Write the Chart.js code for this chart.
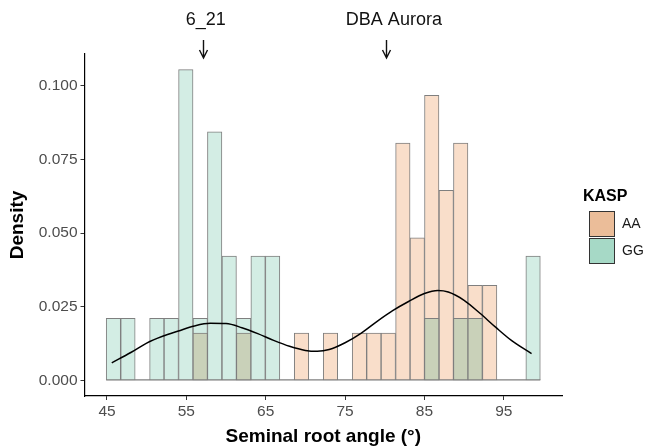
<!DOCTYPE html>
<html>
<head>
<meta charset="utf-8">
<script src="https://cdn.jsdelivr.net/npm/chart.js@4.4.0/dist/chart.umd.min.js"></script>
<style>
  html, body { margin: 0; padding: 0; background: #fff; }
  #wrap { width: 647px; height: 446px; }
</style>
</head>
<body>
<div id="wrap"><canvas id="hist"></canvas></div>
<script>
// Histogram bin centres (seminal root angle, degrees), 30 bins
var binCenters = [45.81, 47.64, 49.46, 51.28, 53.10, 54.93, 56.75, 58.57, 60.40, 62.22,
                  64.04, 65.87, 67.69, 69.51, 71.34, 73.16, 74.98, 76.81, 78.63, 80.45,
                  82.28, 84.10, 85.92, 87.75, 89.57, 91.39, 93.22, 95.04, 96.86, 98.69];

// Density per bin, KASP AA
var densityAA = [0, 0, 0, 0, 0, 0, 0.0161, 0, 0, 0.0161,
                 0, 0, 0, 0.0161, 0, 0.0161, 0, 0.0161, 0.0161, 0.0161,
                 0.0806, 0.0484, 0.0968, 0.0645, 0.0806, 0.0323, 0.0323, 0, 0, 0];

// Density per bin, KASP GG
var densityGG = [0.0211, 0.0211, 0, 0.0211, 0.0211, 0.1055, 0.0211, 0.0844, 0.0422, 0.0211,
                 0.0422, 0.0422, 0, 0, 0, 0, 0, 0, 0, 0,
                 0, 0, 0.0211, 0, 0.0211, 0.0211, 0, 0, 0, 0.0422];

// Overall density curve
var curveX = [45.6, 48, 50, 52, 54, 56, 58, 60, 62, 64, 66, 68, 70, 71.5,
              73, 75, 77, 79, 81, 83, 85, 86.7, 88, 90, 92, 94, 96, 98.5];
var curveY = [0.0060, 0.0095, 0.0127, 0.0150, 0.0168, 0.0185, 0.0194, 0.0193, 0.0179, 0.0159,
              0.0136, 0.0116, 0.0102, 0.0099, 0.0105, 0.0128, 0.0160, 0.0200, 0.0237, 0.0268,
              0.0295, 0.0305, 0.0300, 0.0272, 0.0228, 0.0180, 0.0135, 0.0091];

// Axis ticks
var xTicks = [45, 55, 65, 75, 85, 95];
var yTicks = [0, 0.025, 0.05, 0.075, 0.1];

// Marked lines above the plot
var markLabels = ["6_21", "DBA Aurora"];
var markArrowX = [57.1, 80.15];
var markTextX = [57.45, 81.15];

var legendLabels = ["AA", "GG"];
var legendColors = ["#EBBD99", "#A6D9C6"];

var FONT = "'Liberation Sans', Arial, Helvetica, sans-serif";

function toPoints(xs, ys) {
  var out = [];
  for (var i = 0; i < xs.length; i++) {
    out.push({ x: xs[i], y: ys[i] });
  }
  return out;
}

// where both genotypes share a bin, the mixed colour shows up to the lower bar
var overlap = [];
for (var i = 0; i < binCenters.length; i++) {
  overlap.push(Math.min(densityAA[i], densityGG[i]));
}

var barStyle = {
  type: "bar",
  grouped: false,
  barPercentage: 1,
  categoryPercentage: 1,
  borderColor: "#7F7F7F",
  borderWidth: 1,
  borderSkipped: false
};

// Arrows, labels, baseline of empty bins and the legend
var extras = {
  id: "extras",
  beforeDatasetsDraw: function (chart) {
    var ctx = chart.ctx;
    var x = chart.scales.x, y = chart.scales.y;
    var half = (binCenters[1] - binCenters[0]) / 2;
    ctx.save();
    ctx.strokeStyle = "#7F7F7F";
    ctx.lineWidth = 1.2;
    ctx.beginPath();
    ctx.moveTo(x.getPixelForValue(binCenters[0] - half), y.getPixelForValue(0) - 0.5);
    ctx.lineTo(x.getPixelForValue(binCenters[binCenters.length - 1] + half), y.getPixelForValue(0) - 0.5);
    ctx.stroke();
    ctx.restore();
  },
  afterDraw: function (chart) {
    var ctx = chart.ctx;
    var x = chart.scales.x;
    ctx.save();
    // labels with arrows
    ctx.fillStyle = "#111";
    ctx.strokeStyle = "#111";
    ctx.lineWidth = 1.4;
    ctx.font = "18px " + FONT;
    ctx.textAlign = "center";
    ctx.textBaseline = "middle";
    for (var i = 0; i < markLabels.length; i++) {
      ctx.fillText(markLabels[i], x.getPixelForValue(markTextX[i]), 20);
      var ax = Math.round(x.getPixelForValue(markArrowX[i])) + 0.5;
      ctx.beginPath();
      ctx.moveTo(ax, 40);
      ctx.lineTo(ax, 58);
      ctx.moveTo(ax - 4, 50);
      ctx.lineTo(ax, 58);
      ctx.lineTo(ax + 4, 50);
      ctx.stroke();
    }
    // legend
    ctx.textAlign = "left";
    ctx.fillStyle = "#000";
    ctx.font = "bold 16px " + FONT;
    ctx.fillText("KASP", 583, 197);
    ctx.font = "14px " + FONT;
    for (var j = 0; j < legendLabels.length; j++) {
      var top = 211 + j * 27;
      ctx.fillStyle = legendColors[j];
      ctx.fillRect(589.5, top + 0.5, 25, 25);
      ctx.strokeStyle = "#333";
      ctx.lineWidth = 1;
      ctx.strokeRect(589.5, top + 0.5, 25, 25);
      ctx.fillStyle = "#1a1a1a";
      ctx.fillText(legendLabels[j], 622, top + 13);
    }
    ctx.restore();
  }
};

var ctx = document.getElementById("hist").getContext("2d");
var chart = new Chart(ctx, {
  type: "bar",
  data: {
    datasets: [
      {
        label: "curve",
        type: "line",
        data: toPoints(curveX, curveY),
        borderColor: "#000",
        borderWidth: 1.5,
        pointRadius: 0,
        fill: false,
        cubicInterpolationMode: "monotone",
        order: 0
      },
      Object.assign({}, barStyle, {
        label: "overlap",
        data: toPoints(binCenters, overlap),
        backgroundColor: "#C9D1B9",
        order: 1
      }),
      Object.assign({}, barStyle, {
        label: "GG",
        data: toPoints(binCenters, densityGG),
        backgroundColor: "#D3EDE4",
        order: 2
      }),
      Object.assign({}, barStyle, {
        label: "AA",
        data: toPoints(binCenters, densityAA),
        backgroundColor: "#F9DECA",
        order: 3
      })
    ]
  },
  options: {
    responsive: true,
    maintainAspectRatio: false,
    animation: false,
    layout: { padding: { left: 0, right: 85, top: 54, bottom: 0 } },
    plugins: {
      legend: { display: false },
      tooltip: { enabled: false }
    },
    scales: {
      x: {
        type: "linear",
        min: 42.165,
        max: 102.335,
        offset: false,
        afterBuildTicks: function (scale) {
          scale.ticks = xTicks.map(function (v) { return { value: v }; });
        },
        afterFit: function (scale) { scale.height = 50; },
        grid: { display: true, drawOnChartArea: false, drawTicks: true, tickLength: 4, color: "#333", offset: false },
        border: { display: true, color: "#000", width: 1.2 },
        ticks: {
          padding: 2,
          color: "#4d4d4d",
          font: { family: FONT, size: 15.5 },
          maxRotation: 0,
          callback: function (v) { return v; }
        },
        title: {
          display: true,
          text: "Seminal root angle (°)",
          color: "#000",
          font: { family: FONT, size: 19, weight: "bold", lineHeight: 1 },
          padding: { top: 0, bottom: 0 }
        }
      },
      y: {
        type: "linear",
        min: -0.00527,
        max: 0.1108,
        afterBuildTicks: function (scale) {
          scale.ticks = yTicks.map(function (v) { return { value: v }; });
        },
        afterFit: function (scale) { scale.width = 84.5; },
        grid: { display: true, drawOnChartArea: false, drawTicks: true, tickLength: 4, color: "#333" },
        border: { display: true, color: "#000", width: 1.2 },
        ticks: {
          padding: 3,
          color: "#4d4d4d",
          font: { family: FONT, size: 15.5 },
          callback: function (v) { return v.toFixed(3); }
        },
        title: {
          display: true,
          text: "Density",
          color: "#000",
          font: { family: FONT, size: 19, weight: "bold", lineHeight: 1 },
          padding: { top: 8.5, bottom: 0 }
        }
      }
    }
  },
  plugins: [extras]
});
</script>
</body>
</html>
